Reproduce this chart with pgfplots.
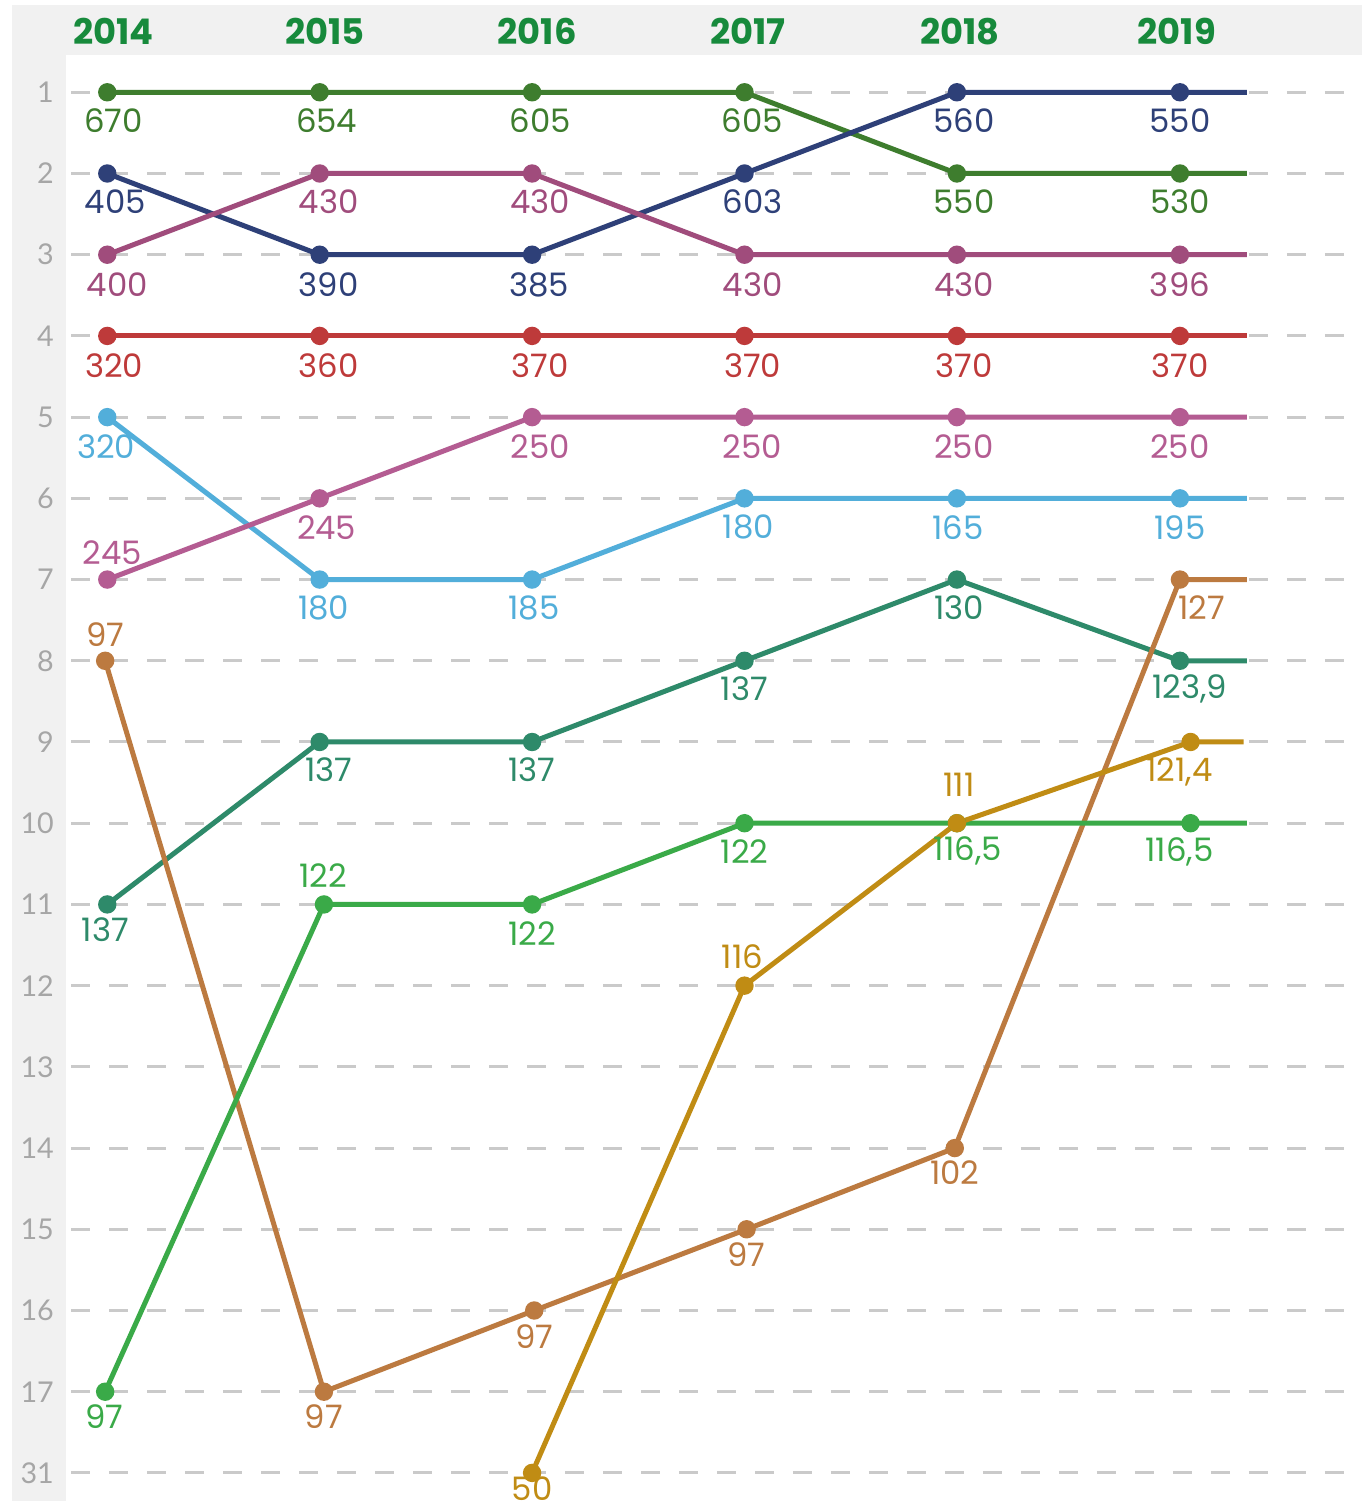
\documentclass[border=0pt]{standalone}
\usepackage{pgfplots}
\pgfplotsset{compat=1.18}
\usepackage{fontspec}
\setmainfont{Poppins}
\newfontfamily\tickfont{Lato}
\definecolor{cDG}{HTML}{3E7D2E}
\definecolor{cNV}{HTML}{2E4078}
\definecolor{cPL}{HTML}{A04C7C}
\definecolor{cRD}{HTML}{BE3A3A}
\definecolor{cLB}{HTML}{52AEDA}
\definecolor{cPK}{HTML}{B45C92}
\definecolor{cTL}{HTML}{2E8A6A}
\definecolor{cBR}{HTML}{BC7A40}
\definecolor{cBG}{HTML}{3AAA48}
\definecolor{cGD}{HTML}{C08C14}
\definecolor{cYR}{HTML}{178A3C}
\definecolor{cGR}{HTML}{CACACA}
\definecolor{cBand}{HTML}{F1F1F1}
\definecolor{cTick}{HTML}{A6A6A6}
\newcommand{\vfont}{\fontsize{9.7}{10}\selectfont}
% label: x, rank, text, dx px, dy px (down positive), colour
\newcommand{\lb}[6]{\node[text=#6, font=\vfont, inner sep=0pt] at (axis cs:#1,#2) [xshift={(#4)*0.3pt}, yshift={(#5)*(-0.3pt)}] {#3};}
\begin{document}
\begin{tikzpicture}
\begin{axis}[
  set layers,
  scale only axis, width=408.6pt, height=452.4pt,
  xmin=2013.4965, xmax=2019.9059,
  ymin=-0.1323, ymax=18.4277, y dir=reverse,
  axis line style={draw=none}, major tick length=0pt,
  clip=false,
  ytick={1,...,18},
  yticklabels={1,2,3,4,5,6,7,8,9,10,11,12,13,14,15,16,17,31},
  yticklabel style={anchor=east, xshift=19.6pt, text=cTick, font=\tickfont\fontsize{8.6}{9}\selectfont},
  xtick={2014.028,2015.026,2016.024,2017.016,2018.014,2019.035},
  xticklabels={2014,2015,2016,2017,2018,2019},
  xticklabel pos=upper,
  xticklabel style={anchor=center, yshift=-9.3pt, text=cYR, font=\bfseries\fontsize{10.6}{11}\selectfont},
  /pgf/number format/assume math mode=true,
  every axis plot/.append style={line width=1.5pt, mark=*, mark size=2.0pt},
]
\begin{pgfonlayer}{axis background}
\fill[white] (rel axis cs:0,0) rectangle (rel axis cs:1,1);
\fill[cBand] (axis cs:2013.5529,-0.0708) rectangle (axis cs:2013.8071,18.3415);
\fill[cBand] (axis cs:2013.5529,-0.0708) rectangle (axis cs:2019.9059,0.5446);
\pgfplotsinvokeforeach{1,...,18}{
  \draw[cGR, line width=0.9pt, dash pattern=on 5.7pt off 5.7pt] (axis cs:2013.8306,#1) -- (axis cs:2019.8259,#1);
}
\end{pgfonlayer}
% series
\addplot[cDG, mark options={fill=cDG, draw=cDG}, mark indices={1,2,3,4,5,6}] coordinates {(2014,1)(2015,1)(2016,1)(2017,1)(2018,2)(2019.05,2)(2019.365,2)};
\addplot[cNV, mark options={fill=cNV, draw=cNV}, mark indices={1,2,3,4,5,6}] coordinates {(2014,2)(2015,3)(2016,3)(2017,2)(2018,1)(2019.05,1)(2019.365,1)};
\addplot[cPL, mark options={fill=cPL, draw=cPL}, mark indices={1,2,3,4,5,6}] coordinates {(2014,3)(2015,2)(2016,2)(2017,3)(2018,3)(2019.05,3)(2019.365,3)};
\addplot[cRD, mark options={fill=cRD, draw=cRD}, mark indices={1,2,3,4,5,6}] coordinates {(2014,4)(2015,4)(2016,4)(2017,4)(2018,4)(2019.05,4)(2019.365,4)};
\addplot[cLB, mark options={fill=cLB, draw=cLB}, mark indices={1,2,3,4,5,6}] coordinates {(2014,5)(2015,7)(2016,7)(2017,6)(2018,6)(2019.05,6)(2019.365,6)};
\addplot[cPK, mark options={fill=cPK, draw=cPK}, mark indices={1,2,3,4,5,6}] coordinates {(2014,7)(2015,6)(2016,5)(2017,5)(2018,5)(2019.05,5)(2019.365,5)};
\addplot[cTL, mark options={fill=cTL, draw=cTL}, mark indices={1,2,3,4,5,6}] coordinates {(2014,11)(2015,9)(2016,9)(2017,8)(2018,7)(2019.05,8)(2019.365,8)};
\addplot[cBR, mark options={fill=cBR, draw=cBR}, mark indices={1,2,3,4,5,6}] coordinates {(2013.99,8)(2015.02,17)(2016.01,16)(2017.01,15)(2017.99,14)(2019.05,7)(2019.365,7)};
\addplot[cBG, mark options={fill=cBG, draw=cBG}, mark indices={1,2,3,4,5,6}] coordinates {(2013.99,17)(2015.02,11)(2016,11)(2017,10)(2018,10)(2019.10,10)(2019.365,10)};
\addplot[cGD, mark options={fill=cGD, draw=cGD}, mark indices={1,2,3,4}] coordinates {(2016,18)(2017,12)(2018,10)(2019.10,9)(2019.35,9)};
% value labels
\lb{2014}{1}{670}{6}{28}{cDG}
\lb{2015}{1}{654}{7}{28}{cDG}
\lb{2016}{1}{605}{8}{28}{cDG}
\lb{2017}{1}{605}{8}{28}{cDG}
\lb{2018}{2}{550}{7}{28}{cDG}
\lb{2019.05}{2}{530}{0}{28}{cDG}
\lb{2014}{2}{405}{8}{28}{cNV}
\lb{2015}{3}{390}{9}{30}{cNV}
\lb{2016}{3}{385}{7}{30}{cNV}
\lb{2017}{2}{603}{8}{28}{cNV}
\lb{2018}{1}{560}{7}{28}{cNV}
\lb{2019.05}{1}{550}{0}{28}{cNV}
\lb{2014}{3}{400}{10}{30}{cPL}
\lb{2015}{2}{430}{9}{28}{cPL}
\lb{2016}{2}{430}{8}{28}{cPL}
\lb{2017}{3}{430}{8}{30}{cPL}
\lb{2018}{3}{430}{7}{30}{cPL}
\lb{2019.05}{3}{396}{0}{30}{cPL}
\lb{2014}{4}{320}{7}{30}{cRD}
\lb{2015}{4}{360}{9}{30}{cRD}
\lb{2016}{4}{370}{8}{30}{cRD}
\lb{2017}{4}{370}{8}{30}{cRD}
\lb{2018}{4}{370}{7}{30}{cRD}
\lb{2019.05}{4}{370}{0}{30}{cRD}
\lb{2014}{5}{320}{-1}{30}{cLB}
\lb{2015}{7}{180}{4}{28}{cLB}
\lb{2016}{7}{185}{2}{28}{cLB}
\lb{2017}{6}{180}{4}{29}{cLB}
\lb{2018}{6}{165}{1}{29}{cLB}
\lb{2019.05}{6}{195}{0}{29}{cLB}
\lb{2014}{7}{245}{5}{-27}{cPK}
\lb{2015}{6}{245}{7}{29}{cPK}
\lb{2016}{5}{250}{8}{30}{cPK}
\lb{2017}{5}{250}{8}{30}{cPK}
\lb{2018}{5}{250}{7}{30}{cPK}
\lb{2019.05}{5}{250}{0}{30}{cPK}
\lb{2014}{11}{137}{-2}{25}{cTL}
\lb{2015}{9}{137}{9}{28}{cTL}
\lb{2016}{9}{137}{0}{28}{cTL}
\lb{2017}{8}{137}{0}{28}{cTL}
\lb{2018}{7}{130}{2}{28}{cTL}
\lb{2019.05}{8}{123,9}{10}{28}{cTL}
\lb{2013.99}{8}{97}{0}{-26}{cBR}
\lb{2015.02}{17}{97}{0}{25}{cBR}
\lb{2016.01}{16}{97}{0}{26}{cBR}
\lb{2017.01}{15}{97}{0}{25}{cBR}
\lb{2017.99}{14}{102}{0}{25}{cBR}
\lb{2019.05}{7}{127}{22}{28}{cBR}
\lb{2013.99}{17}{97}{-1}{25}{cBG}
\lb{2015.02}{11}{122}{-1}{-29}{cBG}
\lb{2016}{11}{122}{0}{29}{cBG}
\lb{2017}{10}{122}{0}{28}{cBG}
\lb{2018}{10}{116,5}{11}{28}{cBG}
\lb{2019.10}{10}{116,5}{-11}{29}{cBG}
\lb{2016}{18}{50}{0}{16}{cGD}
\lb{2017}{12}{116}{-2}{-29}{cGD}
\lb{2018}{10}{111}{2}{-38}{cGD}
\lb{2019.10}{9}{121,4}{-11}{30}{cGD}
\end{axis}
\end{tikzpicture}
\end{document}
